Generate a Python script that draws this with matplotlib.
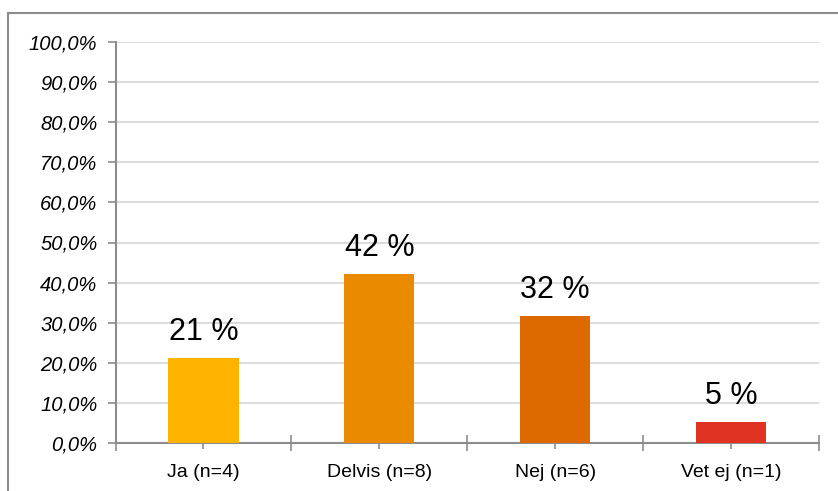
import matplotlib
matplotlib.use("Agg")
import matplotlib.pyplot as plt
from matplotlib.lines import Line2D
from matplotlib.ticker import FixedLocator

plt.rcParams['font.family'] = ['Liberation Sans', 'DejaVu Sans']

categories = ["Ja (n=4)", "Delvis (n=8)", "Nej (n=6)", "Vet ej (n=1)"]
values = [21.1, 42.1, 31.6, 5.3]
labels = ["21 %", "42 %", "32 %", "5 %"]
colors = ["#FEB400", "#EA8A00", "#DC6A00", "#E03220"]
yticks = [0, 10, 20, 30, 40, 50, 60, 70, 80, 90, 100]
ytick_labels = ["0,0%", "10,0%", "20,0%", "30,0%", "40,0%", "50,0%",
                "60,0%", "70,0%", "80,0%", "90,0%", "100,0%"]

W, H = 838, 491
fig = plt.figure(figsize=(W / 100, H / 100), dpi=100)
ax = fig.add_axes([115.5 / W, 1 - 443 / H, (819 - 115.5) / W, (443 - 42) / H])

x = list(range(len(categories)))
ax.bar(x, values, width=0.4, color=colors, zorder=3)
for xi, v, lab in zip(x, values, labels):
    ax.annotate(lab, (xi, v), xytext=(0, 13), textcoords="offset points",
                ha="center", va="baseline", fontsize=22, color="black", zorder=4)

ax.set_xlim(-0.5, len(categories) - 0.5)
ax.set_ylim(0, 100)
ax.set_yticks(yticks, labels=ytick_labels, fontstyle="italic", fontsize=14.5)
ax.tick_params(axis="y", length=6, width=1.2, color="#8C8C8C", pad=7, labelcolor="black")

ax.xaxis.set_major_locator(FixedLocator([i - 0.5 for i in range(len(categories) + 1)]))
ax.xaxis.set_minor_locator(FixedLocator(x))
ax.set_xticklabels([""] * (len(categories) + 1))
ax.set_xticklabels(categories, minor=True)
ax.tick_params(axis="x", which="major", direction="inout", length=12, width=1.2, color="#8C8C8C")
ax.tick_params(axis="x", which="minor", direction="inout", length=8, width=1.2, color="#8C8C8C",
               labelsize=14, pad=11, labelcolor="black")

ax.grid(axis="y", color="#D9D9D9", linewidth=1.3, zorder=0)
ax.set_axisbelow(True)
for s in ["top", "right"]:
    ax.spines[s].set_visible(False)
for s in ["left", "bottom"]:
    ax.spines[s].set_color("#8C8C8C")
    ax.spines[s].set_linewidth(1.5)

# outer frame (top and left edges visible)
fig.add_artist(Line2D([7.5 / W, 1.02], [1 - 12.5 / H, 1 - 12.5 / H], transform=fig.transFigure,
                      color="#8C8C8C", linewidth=1.5))
fig.add_artist(Line2D([7.5 / W, 7.5 / W], [-0.02, 1 - 12.5 / H], transform=fig.transFigure,
                      color="#8C8C8C", linewidth=1.5))

fig.savefig("out.png", dpi=100)
